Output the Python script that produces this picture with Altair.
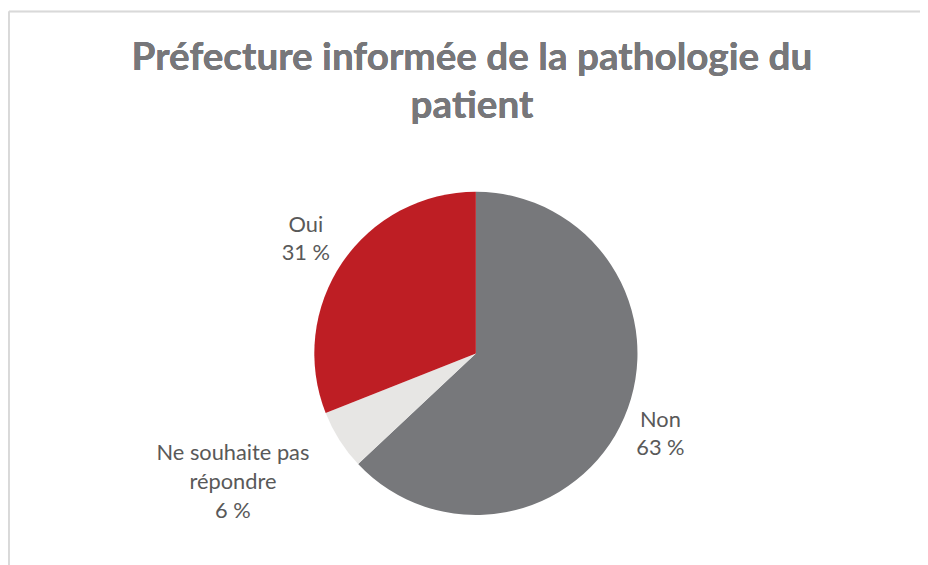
import altair as alt
import pandas as pd

categories = ["Non", "Ne souhaite pas\nrépondre", "Oui"]
values = [63, 6, 31]
colors = ["#77787b", "#e7e6e4", "#be1e24"]
title_lines = ["Préfecture informée de la pathologie du", "patient"]

df = pd.DataFrame({"categorie": categories, "valeur": values, "rang": [0, 1, 2]})

TOP = 130
W, H = 920, 557 - TOP
CX, CY = 472, 346 - TOP

base = alt.Chart(df)

theta = alt.Theta("valeur:Q", stack=True)
order = alt.Order("rang:Q")

arcs = base.mark_arc(radius=163, strokeWidth=0).encode(
    x=alt.value(CX), y=alt.value(CY),
    theta=theta, order=order,
    color=alt.Color("categorie:N", scale=alt.Scale(domain=categories, range=colors), legend=None),
)

lab = base.transform_calculate(
    lbl="split(datum.categorie + '\\n' + datum.valeur + ' %', '\\n')"
)

txt_main = lab.mark_text(
    radius=205, font="Lato", fontSize=22, color="#595959", lineHeight=29,
    align="center", baseline="middle", dx=-2, dy=-14.5,
).encode(x=alt.value(CX), y=alt.value(CY), theta=theta, order=order, text="lbl:N",
         opacity=alt.condition("datum.rang != 1", alt.value(1), alt.value(0)))

txt_ne = lab.mark_text(
    radius=205, font="Lato", fontSize=22, color="#595959", lineHeight=29,
    align="center", baseline="middle", dx=-72, dy=-9,
).encode(x=alt.value(CX), y=alt.value(CY), theta=theta, order=order, text="lbl:N",
         opacity=alt.condition("datum.rang == 1", alt.value(1), alt.value(0)))

title = base.mark_text(
    font="Lato", fontSize=39, fontWeight="bold", color="#77777a",
    align="center", baseline="alphabetic", lineHeight=49,
).encode(x=alt.value(468), y=alt.value(60 - TOP), text=alt.value(title_lines))

border_top = base.mark_rule(color="#d9d9d9", strokeWidth=1.5).encode(
    x=alt.value(1), x2=alt.value(W + 10), y=alt.value(1 - TOP))
border_left = base.mark_rule(color="#d9d9d9", strokeWidth=1.5).encode(
    x=alt.value(1), y=alt.value(1 - TOP), y2=alt.value(H + 10))

chart = alt.layer(border_top, border_left, arcs, txt_main, txt_ne, title).properties(
    width=W, height=H,
    autosize=alt.AutoSizeParams(type="none"),
    padding={"left": 0, "top": TOP, "right": 0, "bottom": 0},
).configure_view(stroke=None)

chart.save("out.html", embed_options={"renderer": "svg", "actions": False})
